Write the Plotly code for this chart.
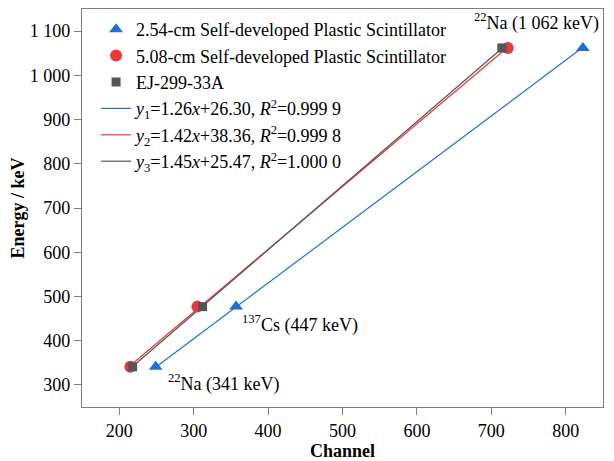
import plotly.graph_objects as go

# Data
energy = [341, 477, 1062]
ch_254 = [249, 357, 823]
ch_508 = [215, 305, 722]
ch_ej = [218, 312, 714]

series_names = ["2.54-cm Self-developed Plastic Scintillator",
                "5.08-cm Self-developed Plastic Scintillator",
                "EJ-299-33A"]
slopes = [1.26, 1.42, 1.45]
intercepts = [26.30, 38.36, 25.47]
r2_labels = ["0.999 9", "0.999 8", "1.000 0"]

yticks = [300, 400, 500, 600, 700, 800, 900, 1000, 1100]
yticklabels = ["300", "400", "500", "600", "700", "800", "900", "1 000", "1 100"]
xticks = [200, 300, 400, 500, 600, 700, 800]

colors = ["#1f6fd6", "#e8383b", "#555555"]
symbols = ["triangle-up", "circle", "square"]
FONT = "Liberation Serif"

fig = go.Figure()
channels = [ch_254, ch_508, ch_ej]

# fitted lines (drawn first)
for i in range(3):
    xs = [min(channels[i]), max(channels[i])]
    ys = [slopes[i] * x + intercepts[i] for x in xs]
    fig.add_trace(go.Scatter(
        x=xs, y=ys, mode="lines",
        line=dict(color=colors[i], width=1.2),
        name=f"<i>y</i><sub>{i+1}</sub>={slopes[i]:.2f}<i>x</i>+{intercepts[i]:.2f}, <i>R</i><sup>2</sup>={r2_labels[i]}",
        legendrank=10 + i,
    ))

for i in range(3):
    fig.add_trace(go.Scatter(
        x=channels[i], y=energy, mode="markers",
        marker=dict(symbol=symbols[i], color=colors[i], size=12 if i < 2 else 9,
                    line=dict(width=0)),
        name=series_names[i],
        legendrank=1 + i,
    ))

# annotations
fig.add_annotation(x=ch_254[2], y=energy[2], text="<sup>22</sup>Na (1 062 keV)",
                   showarrow=False, xanchor="right", yanchor="bottom",
                   xshift=18, yshift=12, font=dict(family=FONT, size=18, color="black"))
fig.add_annotation(x=ch_254[1], y=energy[1], text="<sup>137</sup>Cs (447 keV)",
                   showarrow=False, xanchor="left", yanchor="top",
                   xshift=4, yshift=-3, font=dict(family=FONT, size=18, color="black"))
fig.add_annotation(x=ch_254[0], y=energy[0], text="<sup>22</sup>Na (341 keV)",
                   showarrow=False, xanchor="left", yanchor="top",
                   xshift=10, yshift=-2, font=dict(family=FONT, size=18, color="black"))

axis_common = dict(
    showline=True, linecolor="#808080", linewidth=1.2, mirror=True,
    ticks="outside", ticklen=7, tickcolor="#808080", tickwidth=1.2,
    showgrid=False, zeroline=False,
    tickfont=dict(family=FONT, size=18, color="black"),
)

fig.update_xaxes(range=[150, 850], tickvals=xticks,
                 title=dict(text="<b>Channel</b>", font=dict(family=FONT, size=18, color="black"), standoff=0),
                 **axis_common)
fig.update_yaxes(range=[250, 1150], tickvals=yticks, ticktext=yticklabels,
                 title=dict(text="<b>Energy / keV</b>", font=dict(family=FONT, size=18, color="black"), standoff=0),
                 **axis_common)

fig.update_layout(
    width=614, height=461,
    margin=dict(l=82, r=11, t=8, b=47),
    plot_bgcolor="white", paper_bgcolor="white",
    font=dict(family=FONT, size=18, color="black"),
    legend=dict(x=0.027, y=0.995, xanchor="left", yanchor="top",
                bgcolor="rgba(0,0,0,0)", font=dict(family=FONT, size=18, color="black"),
                tracegroupgap=0, itemwidth=30),
    showlegend=True,
)

fig.write_html("out.html")
